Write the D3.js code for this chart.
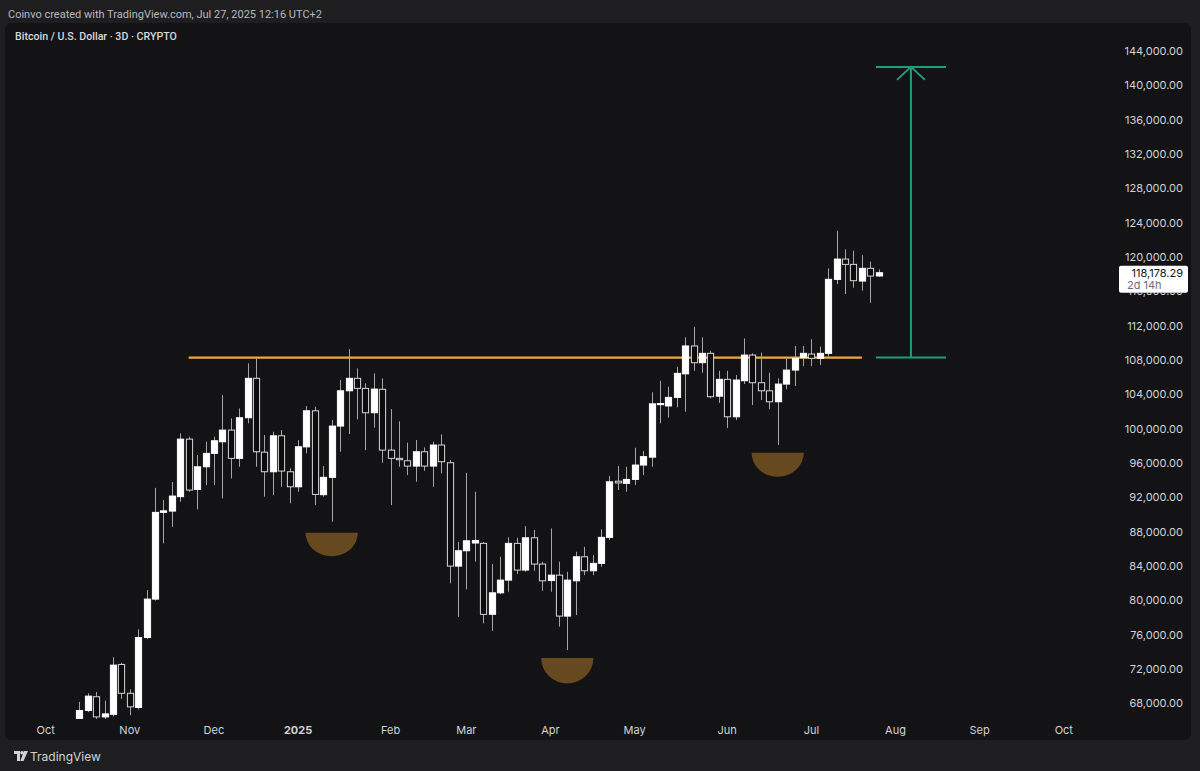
<!DOCTYPE html>
<html><head><meta charset="utf-8">
<script src="https://cdn.jsdelivr.net/npm/d3@7"></script>
<style>
html,body{margin:0;padding:0;background:#1e1e21;overflow:hidden;}
svg{display:block;font-family:Inter,"Noto Sans",sans-serif;}
</style></head>
<body>
<svg id="chart" width="1200" height="771"></svg>
<script>
// ---- DATA ----
const dates = ["2024-10-15","2024-10-18","2024-10-21","2024-10-24","2024-10-27","2024-10-30","2024-11-02","2024-11-05","2024-11-08","2024-11-11",
"2024-11-14","2024-11-17","2024-11-20","2024-11-23","2024-11-26","2024-11-29","2024-12-02","2024-12-05","2024-12-08","2024-12-11",
"2024-12-14","2024-12-17","2024-12-20","2024-12-23","2024-12-26","2024-12-29","2025-01-01","2025-01-04","2025-01-07","2025-01-10",
"2025-01-13","2025-01-16","2025-01-19","2025-01-22","2025-01-25","2025-01-28","2025-01-31","2025-02-03","2025-02-06","2025-02-09",
"2025-02-12","2025-02-15","2025-02-18","2025-02-21","2025-02-24","2025-02-27","2025-03-02","2025-03-05","2025-03-08","2025-03-11",
"2025-03-14","2025-03-17","2025-03-20","2025-03-23","2025-03-26","2025-03-29","2025-04-01","2025-04-04","2025-04-07","2025-04-10",
"2025-04-13","2025-04-16","2025-04-19","2025-04-22","2025-04-25","2025-04-28","2025-05-01","2025-05-04","2025-05-07","2025-05-10",
"2025-05-13","2025-05-16","2025-05-19","2025-05-22","2025-05-25","2025-05-28","2025-05-31","2025-06-03","2025-06-06","2025-06-09",
"2025-06-12","2025-06-15","2025-06-18","2025-06-21","2025-06-24","2025-06-27","2025-06-30","2025-07-03","2025-07-06","2025-07-09",
"2025-07-12","2025-07-15","2025-07-18","2025-07-21","2025-07-24","2025-07-27"];
const opens = [66000,67200,68800,66450,66750,72560,69200,67550,75700,80170,
90270,90420,92100,98800,92940,95580,97140,98490,99850,96560,
101290,105880,97280,95000,99190,95000,93250,97900,102100,92330,
94350,100320,104430,105880,104710,101870,104600,97520,96560,96280,
95660,97330,95660,98110,96050,84010,85800,86700,86660,78400,
80900,82380,86660,83550,87310,84250,82330,82960,78190,82300,
85100,83470,84330,87360,93900,93650,94110,95780,96700,102850,
102660,103660,106400,109650,107700,108790,103800,105760,101400,105600,
108590,105370,104430,103150,105210,106840,108280,108710,108210,108790,
117400,119770,119150,117210,118690,117800];
const highs = [68200,69200,69350,68350,73400,72750,69650,76650,81220,93130,
91700,93800,99470,99080,96940,98490,99080,103930,101220,102380,
107620,108210,99280,99660,99850,95400,98690,102650,102570,95660,
101020,105680,109270,107040,105300,106460,105880,102300,100870,98380,
98690,97840,98490,99350,96360,86840,94880,92670,86800,84250,
85100,87360,87310,88670,88210,84520,88400,84520,83350,85680,
86260,85290,88290,94500,95660,95580,97790,97410,104260,105600,
104900,107230,110650,111880,110650,109090,106760,106760,106260,110530,
108790,108870,106530,105880,108210,109650,109650,110420,109570,118690,
123070,120900,120740,120220,119460,118570];
const lows = [64800,67000,65300,65500,66500,68560,66650,67320,75500,80000,
86660,88590,91500,92670,90620,93450,93450,91900,94230,95580,
100640,95580,92100,92280,93250,91320,92670,97140,91120,92100,
89170,97330,99390,101100,97520,100130,96050,91120,95580,94610,
93830,95110,93250,94810,82000,78110,81300,84520,77340,76480,
80750,81020,83100,83350,83470,81140,81020,76950,74230,78310,
82960,82960,83930,87040,92870,92670,93450,94610,95580,100640,
101290,102500,101990,106760,106530,103550,103030,100090,101020,105210,
102770,103350,102270,98110,104600,104980,107300,107300,107420,108360,
116860,115700,116430,116080,114680,117700];
const closes = [67200,68870,66450,66800,72480,69200,67620,75700,80170,90270,
90450,92170,98800,92870,95580,97140,98610,99850,96560,101290,
105880,97330,95000,99190,95080,93250,97910,102100,92360,94350,
100320,104430,105880,104710,101870,104630,97520,96560,96400,95660,
97330,95660,98110,96170,84010,85800,86960,87000,78390,80900,
82380,86660,83550,87310,84250,82300,82960,78190,82380,85100,
83470,84330,87360,93830,93700,94110,95780,96760,102910,102950,
103660,106460,109650,107700,108790,103740,105760,101400,105680,108590,
105370,104430,103150,105210,106840,108210,108790,108210,108790,117410,
119770,119150,117250,118690,117790,118178.29];

const priceTicks = [68000,72000,76000,80000,84000,88000,92000,96000,100000,104000,108000,112000,116000,120000,124000,128000,132000,136000,140000,144000];
const monthTickDates = ["2024-10-03","2024-11-02","2024-12-02","2025-01-01","2025-02-03","2025-03-02","2025-04-01","2025-05-01","2025-06-03","2025-07-03","2025-08-02","2025-09-01","2025-10-01"];
const monthTickLabels = ["Oct","Nov","Dec","2025","Feb","Mar","Apr","May","Jun","Jul","Aug","Sep","Oct"];
const yearTickLabels = ["2025"];

const lastPrice = 118178.29;
const countdownLabel = "2d 14h";
const headerText = "Coinvo created with TradingView.com, Jul 27, 2025 12:16 UTC+2";
const titleText = "Bitcoin / U.S. Dollar · 3D · CRYPTO";

const resistanceDates = ["2024-11-23","2025-07-21"];
const resistancePrice = 108300;
const targetDates = ["2025-07-26","2025-08-07T12:00","2025-08-20"];
const targetPrices = [108300, 142150];
const bowlCenters = ["2025-01-13","2025-04-07","2025-06-21"];
const bowlTops = [87900, 73300, 97200];
const bowlBottoms = [85150, 70350, 94400];
const bowlHalfWidthDays = 9.3;

// ---- SCALES ----
const parse = s => new Date(s + (s.length === 10 ? "T00:00:00Z" : "Z"));
const candles = dates.map((d,i)=>({date:parse(d), o:opens[i], h:highs[i], l:lows[i], c:closes[i]}));

const x = d3.scaleUtc().domain([parse(dates[0]), parse(dates[dates.length-1])]).range([79.3, 878.7]);
const y = d3.scaleLinear().domain([68000, 144000]).range([703.6, 51]);

const svg = d3.select("#chart");
const BG = "#131316";

// outer background / panel
svg.append("rect").attr("x",0).attr("y",0).attr("width",1200).attr("height",771).attr("fill","#1e1e21");
svg.append("rect").attr("x",5).attr("y",23).attr("width",1186).attr("height",717).attr("rx",6).attr("fill",BG);

// header
svg.append("text").attr("x",8).attr("y",17.5).attr("fill","#b8b9bd").attr("font-size",11)
  .attr("font-family","Roboto, sans-serif").text(headerText);
svg.append("text").attr("x",15).attr("y",39.5).attr("fill","#d8d9dc").attr("font-size",10.6)
  .attr("font-family","Roboto, sans-serif").attr("font-weight",500).text(titleText);

// clip
svg.append("defs").append("clipPath").attr("id","plot").append("rect")
  .attr("x",8).attr("y",46).attr("width",1100).attr("height",673);
const plot = svg.append("g").attr("clip-path","url(#plot)");

// bowls
const bowlG = plot.append("g");
bowlCenters.forEach((c,i)=>{
  const cd = parse(c);
  const xl = x(d3.timeHour.offset(cd, -bowlHalfWidthDays*24));
  const xr = x(d3.timeHour.offset(cd, bowlHalfWidthDays*24));
  const yt = y(bowlTops[i]), yb = y(bowlBottoms[i]);
  const rx = (xr-xl)/2, ry = yb-yt;
  bowlG.append("path")
    .attr("d", `M${xl},${yt} A${rx},${ry} 0 0 0 ${xr},${yt} Z`)
    .attr("fill","#67491f");
});

// resistance line
plot.append("line")
  .attr("x1", x(parse(resistanceDates[0]))).attr("x2", x(parse(resistanceDates[1])))
  .attr("y1", y(resistancePrice)).attr("y2", y(resistancePrice))
  .attr("stroke","#f5a83a").attr("stroke-width",2.2);

// candles
const bw = 6.2;
const cg = plot.append("g");
cg.selectAll("line.wick").data(candles).join("line").attr("class","wick")
  .attr("x1",d=>Math.round(x(d.date))+0.5).attr("x2",d=>Math.round(x(d.date))+0.5)
  .attr("y1",d=>y(d.h)).attr("y2",d=>y(d.l))
  .attr("stroke","#a3a5ab").attr("stroke-width",1);
cg.selectAll("rect.body").data(candles).join("rect").attr("class","body")
  .attr("x",d=>Math.round(x(d.date))+0.5-bw/2)
  .attr("y",d=>y(Math.max(d.o,d.c)))
  .attr("width",bw)
  .attr("height",d=>Math.max(1.2, Math.abs(y(d.o)-y(d.c))))
  .attr("fill",d=>d.c>=d.o ? "#ffffff" : "#0c0c0e")
  .attr("stroke",d=>d.c>=d.o ? "#ffffff" : "#d6d7da")
  .attr("stroke-width",1);

// target measure (green)
const tg = plot.append("g").attr("stroke","#1f9c7c").attr("stroke-width",2).attr("fill","none");
const gx0 = x(parse(targetDates[0])), gxm = x(parse(targetDates[1])), gx1 = x(parse(targetDates[2]));
const gyb = y(targetPrices[0]), gyt = y(targetPrices[1]);
tg.append("line").attr("x1",gx0).attr("x2",gx1).attr("y1",gyb).attr("y2",gyb);
tg.append("line").attr("x1",gx0).attr("x2",gx1).attr("y1",gyt).attr("y2",gyt);
tg.append("line").attr("x1",gxm).attr("x2",gxm).attr("y1",gyb).attr("y2",gyt);
tg.append("path").attr("d",`M${gxm-14},${gyt+13} L${gxm},${gyt} L${gxm+14},${gyt+13}`);

// price axis
const fmt = d3.format(",.2f");
const ly = y(lastPrice);
const boxTop = ly-7, boxBottom = ly+20;
const pa = svg.append("g");
// the tick that sits under the last-price box shows only its lower sliver, as in the reference
pa.append("defs").append("clipPath").attr("id","underBox").append("rect")
  .attr("x",1100).attr("y",boxBottom).attr("width",100).attr("height",20);
pa.selectAll("text").data(priceTicks).join("text")
  .attr("x",1183).attr("y",d=>y(d)).attr("dy","0.35em")
  .attr("text-anchor","end").attr("fill","#d1d3d8").attr("font-size",11)
  .attr("clip-path",d=> (y(d)+6>boxTop && y(d)-6<boxBottom) ? "url(#underBox)" : null)
  .text(d=>fmt(d));

// time axis
const ta = svg.append("g");
ta.selectAll("text").data(monthTickDates).join("text")
  .attr("x",d=>x(parse(d))).attr("y",734)
  .attr("text-anchor","middle").attr("fill","#d1d3d8").attr("font-size",11)
  .attr("font-weight",(d,i)=>yearTickLabels.includes(monthTickLabels[i])?700:400)
  .text((d,i)=>monthTickLabels[i]);

// last price label
const lp = svg.append("g");
lp.append("rect").attr("x",1119).attr("y",boxTop).attr("width",69).attr("height",boxBottom-boxTop).attr("rx",2).attr("fill","#ffffff");
lp.append("text").attr("x",1183).attr("y",ly).attr("dy","0.35em").attr("text-anchor","end")
  .attr("fill","#131722").attr("font-size",11).text(fmt(lastPrice));
lp.append("text").attr("x",1127).attr("y",ly+12).attr("dy","0.35em").attr("text-anchor","start")
  .attr("fill","#6a6d78").attr("font-size",11).text(countdownLabel);

// footer logo
const fg = svg.append("g").attr("fill","#d1d3d8");
fg.append("path").attr("d","M14,751 h6 v10 h-3 v-7 h-3 z");
fg.append("circle").attr("cx",22).attr("cy",752.8).attr("r",1.8);
fg.append("path").attr("d","M24,751 h4 l-4.5,10 h-3.2 z");
fg.append("text").attr("x",30).attr("y",760.5).attr("font-size",12).text("TradingView");
</script>
</body></html>
